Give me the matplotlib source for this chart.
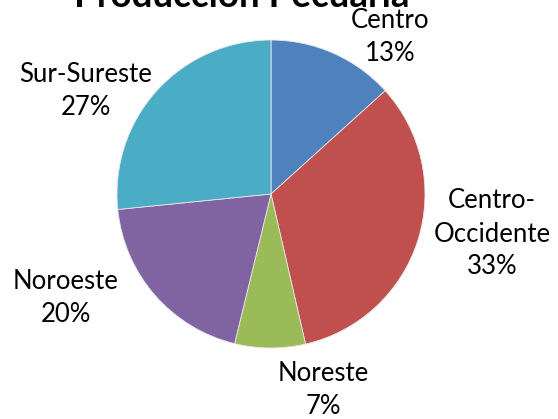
import matplotlib
matplotlib.use('Agg')
import matplotlib.pyplot as plt

regions = ["Centro", "Centro-\nOccidente", "Noreste", "Noroeste", "Sur-Sureste"]
shares = [13.3, 33.1, 7.4, 19.6, 26.6]
colors = ["#4F81BD", "#C0504D", "#9BBB59", "#8064A2", "#4BACC6"]
title = "Producción Pecuaria"

# label centers in pixel coords (y measured from bottom)
label_pos = [(390, 382), (492, 185), (323, 29), (66, 121), (86, 328)]

W, H = 558, 419
fig = plt.figure(figsize=(W / 100, H / 100), dpi=100)
ax = fig.add_axes([0, 0, 1, 1])

ax.pie(shares, colors=colors, startangle=90, counterclock=False,
       center=(271, 225), radius=154, frame=True,
       wedgeprops=dict(linewidth=0.6, edgecolor='#e8e8e8'))
ax.set_xlim(0, W)
ax.set_ylim(0, H)
ax.set_aspect('equal')
ax.axis('off')

total = sum(shares)
for name, val, (x, y) in zip(regions, shares, label_pos):
    ax.text(x, y, f"{name}\n{round(val / total * 100):.0f}%", ha='center', va='center',
            fontsize=18.5, family='Lato', linespacing=1.4)

# title sits mostly above the canvas, as in the source image
ax.text(242, 412, title, ha='center', va='baseline', fontsize=26.5,
        family='Lato', fontweight='bold')

fig.savefig('out.png', dpi=100)
